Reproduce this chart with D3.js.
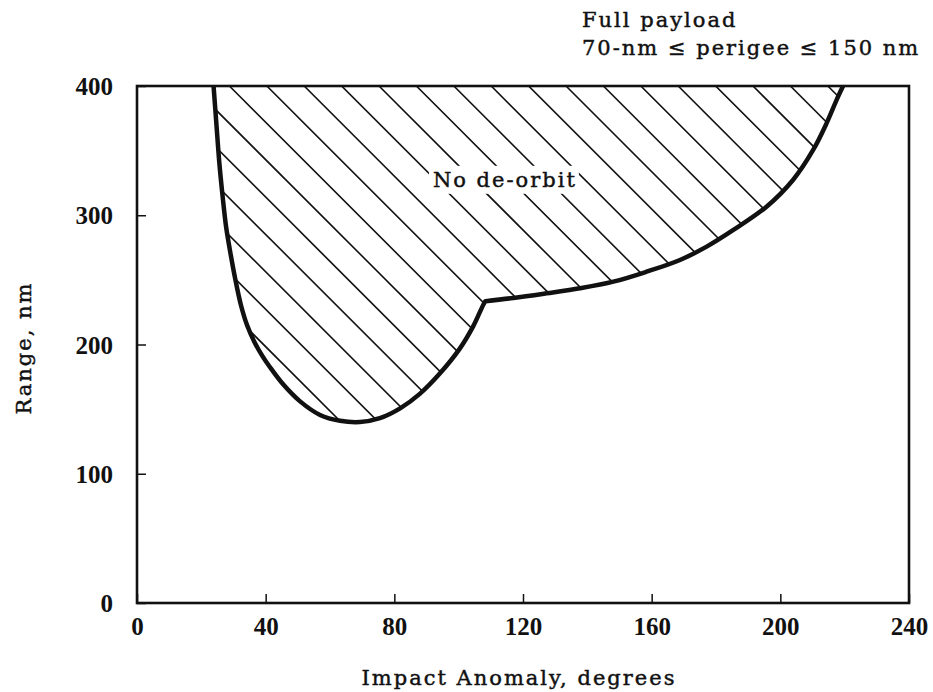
<!DOCTYPE html>
<html><head><meta charset="utf-8">
<script src="https://cdn.jsdelivr.net/npm/d3@7"></script>
<style>body{margin:0;background:#fff}svg{display:block}</style>
</head><body>
<svg id="chart" width="933" height="692"></svg>
<script>
// ---- data ----
const xTicks = [0, 40, 80, 120, 160, 200, 240];
const yTicks = [0, 100, 200, 300, 400];
// boundary of the "No de-orbit" region: [impact anomaly (deg), range (nm)]
const leftBranch = [
  [23.8,400],[24.7,370],[25.6,340.4],[26.6,315],[27.7,291],[29.1,270],[30.6,250],
  [32.3,230.6],[34.2,215.1],[36.5,202],[39.0,191],[41.3,182.6],[45.5,169],[50.7,156],
  [56.9,145.5],[63.1,141],[69.3,140],[75.5,143],[81.8,150.6],[88.0,162],[94.2,177.7],
  [100.4,197],[104.5,214],[107.7,231],[108.3,233.5]
];
const rightBranch = [
  [108.3,233.5],[117,236],[127.3,239.6],[137.7,243.5],[148.1,248.6],[158.4,256.3],
  [168.8,265.4],[177.1,275.7],[185.4,288.6],[195.7,306.6],[204,327.5],[210.2,350.5],
  [214.4,371.3],[217.5,389.3],[219.5,400]
];
const regionLabel = "No de-orbit";
const regionLabelAt = [92, 322];
const noteLines = ["Full payload", "70-nm \u2264 perigee \u2264 150 nm"];
const xTitle = "Impact Anomaly, degrees";
const yTitle = "Range, nm";

// ---- drawing ----
(function () {
const svg = d3.select("#chart");
const ink = "#111";
const serif = "'DejaVu Serif', serif";
const x = d3.scaleLinear().domain([0, 240]).range([137, 909]);
const y = d3.scaleLinear().domain([0, 400]).range([603, 86]);

const line = d3.line().x(d => x(d[0])).y(d => y(d[1])).curve(d3.curveCatmullRom.alpha(0.5));
const boundaryPath = line(leftBranch) + line(rightBranch).replace(/^M/, "L");

function styleText(sel) {
  return sel.attr("font-family", serif).attr("font-size", 21).attr("letter-spacing", 2)
    .attr("fill", ink).attr("stroke", ink).attr("stroke-width", 0.45);
}

// clip for hatching
svg.append("defs").append("clipPath").attr("id", "region")
  .append("path").attr("d", boundaryPath + "Z");

// hatching (45 degree lines)
const hatch = svg.append("g").attr("clip-path", "url(#region)");
const yTop = y(400), span = 700;
for (let k = -9; k <= 18; k++) {
  const c = x(0) + 92.4 + 37.4 * k;
  hatch.append("line")
    .attr("x1", c).attr("y1", yTop)
    .attr("x2", c + span).attr("y2", yTop + span)
    .attr("stroke", ink).attr("stroke-width", 1.6);
}

// region label with white knock-out
const lbl = styleText(svg.append("text")
  .attr("x", x(regionLabelAt[0])).attr("y", y(regionLabelAt[1]))).text(regionLabel);
const bb = lbl.node().getBBox();
svg.insert("rect", "text").attr("x", bb.x - 4).attr("y", bb.y - 2)
  .attr("width", bb.width + 6).attr("height", bb.height + 4).attr("fill", "#fff");

// boundary curve
svg.append("path").attr("d", boundaryPath).attr("fill", "none")
  .attr("stroke", ink).attr("stroke-width", 4.5).attr("stroke-linejoin", "round");

// frame
svg.append("rect").attr("x", x(0)).attr("y", y(400))
  .attr("width", x(240) - x(0)).attr("height", y(0) - y(400))
  .attr("fill", "none").attr("stroke", ink).attr("stroke-width", 2.6);

// axes
const gx = svg.append("g").attr("transform", `translate(0,${y(0)})`)
  .call(d3.axisBottom(x).tickValues(xTicks).tickSizeInner(-9).tickSizeOuter(0));
gx.select(".domain").remove();
gx.selectAll("line").attr("stroke", ink).attr("stroke-width", 1.5);
gx.selectAll("text").attr("y", 32).attr("dy", 0)
  .attr("font-family", "'Liberation Serif', serif").attr("font-weight", "bold")
  .attr("font-size", 25).attr("fill", ink);

const gy = svg.append("g").attr("transform", `translate(${x(0)},0)`)
  .call(d3.axisLeft(y).tickValues(yTicks).tickSizeInner(-9).tickSizeOuter(0));
gy.select(".domain").remove();
gy.selectAll("line").attr("stroke", ink).attr("stroke-width", 1.5);
gy.selectAll("text").attr("x", -24).attr("dy", "0.34em")
  .attr("font-family", "'Liberation Serif', serif").attr("font-weight", "bold")
  .attr("font-size", 25).attr("fill", ink);

// axis titles
styleText(svg.append("text").attr("x", 519).attr("y", 685).attr("text-anchor", "middle")).text(xTitle);
styleText(svg.append("text").attr("transform", "translate(31,348) rotate(-90)")
  .attr("text-anchor", "middle")).text(yTitle);

// note at top right
noteLines.forEach((t, i) => {
  styleText(svg.append("text").attr("x", 582).attr("y", 27 + i * 28)).text(t);
});
})();
</script>
</body></html>
